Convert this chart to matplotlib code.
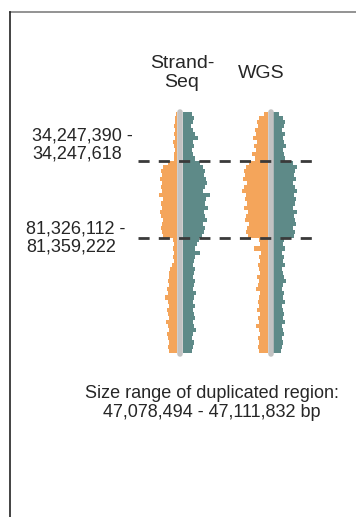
import matplotlib.pyplot as plt
import numpy as np

plt.rcParams["font.family"] = ["Liberation Sans", "DejaVu Sans"]

# breakpoints of the duplicated region (bp)
bp_left = [34247390, 34247618]
bp_right = [81326112, 81359222]

# chromosome binning (Mb)
chrom_start = 4.0
chrom_end = 152.5
bin_size = 2.5

# read depth per bin, minus strand (orange, left) and plus strand (teal, right)
ss_minus = [1, 2, 2, 3, 2, 3, 2, 4, 3, 2, 3, 3,
            9, 14, 16, 15, 17, 15, 16, 15, 18, 14, 16, 15, 17, 16, 14, 15, 16, 15, 14,
            4, 3, 4, 3, 4, 3, 5, 7, 8, 8, 9, 8, 10, 9, 12, 9, 8, 10, 9, 8, 11, 9, 8, 10, 9, 8, 9, 8]
ss_plus = [9, 11, 10, 8, 10, 12, 15, 10, 11, 9, 10, 12,
           17, 20, 22, 21, 23, 24, 22, 20, 27, 23, 22, 25, 21, 22, 24, 20, 22, 21, 19,
           16, 14, 12, 17, 12, 11, 10, 12, 11, 10, 12, 11, 10, 13, 11, 10, 12, 10, 11, 12, 10, 11, 13, 10, 9, 11, 10, 9]
wgs_minus = [4, 9, 11, 10, 13, 12, 15, 11, 14, 12, 16, 13,
             19, 22, 24, 23, 25, 21, 24, 26, 22, 23, 21, 24, 20, 22, 23, 19, 21, 22, 20,
             9, 8, 14, 7, 9, 8, 10, 9, 8, 11, 9, 10, 12, 8, 9, 10, 9, 11, 8, 10, 9, 12, 9, 8, 10, 9, 10, 9]
wgs_plus = [6, 10, 12, 11, 9, 12, 10, 11, 13, 10, 11, 12,
            20, 24, 22, 21, 23, 20, 22, 24, 21, 23, 22, 20, 24, 21, 22, 23, 20, 22, 21,
            11, 10, 12, 9, 11, 10, 12, 9, 10, 11, 13, 10, 9, 11, 10, 12, 9, 10, 11, 10, 12, 9, 10, 11, 9, 10, 9, 8]

track_names = ["Strand-\nSeq", "WGS"]
track_minus = [ss_minus, wgs_minus]
track_plus = [ss_plus, wgs_plus]

c_minus = "#F4A55B"
c_plus = "#5E8A88"
c_ideo = "#C2C2C2"
c_text = "#262626"

fig = plt.figure(figsize=(3.56, 5.17), dpi=100)

# layer in pixel coordinates for frame and text
lay = fig.add_axes([0, 0, 1, 1])
lay.set_xlim(0, 356)
lay.set_ylim(517, 0)
lay.axis("off")

# tracks: x in pixels, y in Mb
ax = fig.add_axes([0, 0, 1, 1])
ax.set_xlim(0, 356)
ax.set_ylim(252.0, -64.22)
ax.axis("off")

lay.plot([10, 356], [12, 12], color="#808080", lw=1.2)
lay.plot([10, 10], [12, 517], color="#222222", lw=1.2)

n_bins = len(ss_minus)
bin_mid = chrom_start + bin_size * (np.arange(n_bins) + 0.5)

track_x = [179.7, 270.5]
label_x = [182, 261.5]
half_w = 2.8

for i in range(len(track_names)):
    cx = track_x[i]
    ax.barh(bin_mid, -np.array(track_minus[i]), left=cx - half_w, height=bin_size,
            color=c_minus, linewidth=0, zorder=2)
    ax.barh(bin_mid, track_plus[i], left=cx + half_w, height=bin_size,
            color=c_plus, linewidth=0, zorder=2)
    ax.plot([cx, cx], [chrom_start, chrom_end], color=c_ideo, lw=4.0,
            solid_capstyle="round", zorder=3)
    lay.text(label_x[i], 73, track_names[i], ha="center", va="center",
             fontsize=14, color=c_text, linespacing=1.12)

# breakpoint lines
for bp in [np.mean(bp_left) / 1e6, np.mean(bp_right) / 1e6]:
    ax.plot([138, 312], [bp, bp], color="#3A3A3A", lw=2, linestyle=(0, (4, 3.3)), zorder=4)

lay.text(32, 145, f"{bp_left[0]:,} -\n{bp_left[1]:,}", ha="left", va="center",
         fontsize=13, color=c_text, linespacing=1.12)
lay.text(26, 238, f"{bp_right[0]:,} -\n{bp_right[1]:,}", ha="left", va="center",
         fontsize=13, color=c_text, linespacing=1.12)

size_min = bp_right[0] - bp_left[1]
size_max = bp_right[1] - bp_left[0]
lay.text(212, 403, f"Size range of duplicated region:\n{size_min:,} - {size_max:,} bp",
         ha="center", va="center", fontsize=13, color=c_text, linespacing=1.12)

fig.savefig("out.png", dpi=100)
